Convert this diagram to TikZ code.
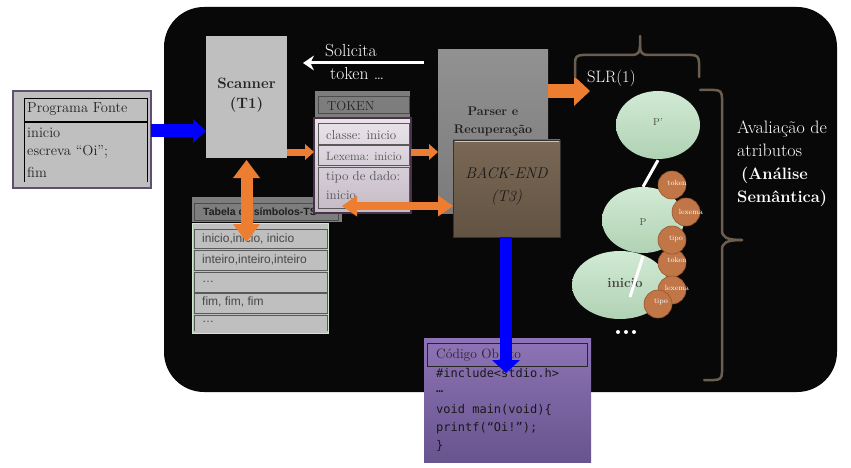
\documentclass[tikz,border=0pt]{standalone}
\usepackage{fontspec}
\newfontfamily\arialf{Liberation Sans}
\newfontfamily\monof{DejaVu Sans Mono}
\usetikzlibrary{arrows.meta,shapes.geometric,calc}
\definecolor{bgray}{RGB}{191,191,191}
\definecolor{dgray}{RGB}{125,125,125}
\definecolor{orng}{RGB}{237,125,49}
\definecolor{brntop}{RGB}{122,104,85}
\definecolor{brnbot}{RGB}{98,83,67}
\definecolor{bracec}{RGB}{107,94,80}
\definecolor{framec}{RGB}{95,80,115}
\definecolor{tokb}{RGB}{75,50,75}
\definecolor{toktop}{RGB}{234,228,234}
\definecolor{tokbot}{RGB}{196,186,198}
\definecolor{ballc}{RGB}{192,118,70}
\definecolor{ballb}{RGB}{150,85,45}
\definecolor{txtd}{RGB}{35,35,35}
\definecolor{elltop}{RGB}{210,234,212}
\definecolor{ellbot}{RGB}{176,210,180}
\definecolor{codetop}{RGB}{142,116,182}
\definecolor{codebot}{RGB}{104,84,142}
\definecolor{tabb}{RGB}{205,232,205}
\tikzset{
  box/.style={anchor=north west, inner sep=0pt, outer sep=0pt},
  lbl/.style={anchor=west, inner sep=0pt},
  osmall/.style={orng, line width=7pt, -{Triangle[length=9pt,width=16pt,line width=0pt]}},
  obig/.style={orng, line width=14pt, -{Triangle[length=16pt,width=30pt,line width=0pt]}},
  overt/.style={orng, line width=12pt, {Triangle[length=18pt,width=27pt,line width=0pt]}-{Triangle[length=18pt,width=27pt,line width=0pt]}},
  ohor/.style={orng, line width=8pt, {Triangle[length=15pt,width=21pt,line width=0pt]}-{Triangle[length=15pt,width=21pt,line width=0pt]}},
  bluer/.style={blue, line width=13pt, -{Triangle[length=13pt,width=24pt,line width=0pt]}},
  bluedn/.style={blue, line width=12pt, -{Triangle[length=13pt,width=28pt,line width=0pt]}},
  itembox/.style={box, draw=black!65, line width=1pt},
  ell/.style={ellipse, inner sep=0pt, top color=elltop, bottom color=ellbot},
  ball/.style={circle, minimum size=28pt, inner sep=0pt, fill=ballc, draw=ballb, line width=0.6pt},
  balltxt/.style={text=white, inner sep=0pt, font=\fontsize{7.5}{8}\selectfont},
  bracel/.style={draw=bracec, line width=2.5pt, line cap=round},
  wline/.style={draw=white, line width=3pt},
}
\begin{document}
\begin{tikzpicture}[x=1pt,y=-1pt]
\useasboundingbox (0,0) rectangle (851,468);
% black panel
\fill[black!97, rounded corners=40pt] (164,7) rectangle (837,392);

% Programa Fonte
\node[box, draw=framec, line width=2.5pt, fill=bgray, minimum width=138pt, minimum height=97pt] (prog) at (13,91) {};
\node[box, draw=black, line width=0.8pt, minimum width=123pt, minimum height=23pt] (proghead) at (24,98) {};
\node[lbl, font=\fontsize{14.5}{16}\selectfont, text=txtd] (progt) at (27,109.5) {Programa Fonte};
\draw[black, line width=0.8pt] (24,182) -- (24,122) -- (147,122) -- (147,182);
\node[lbl, font=\fontsize{14.5}{16}\selectfont, text=txtd] (p1) at (27,133) {inicio};
\node[lbl, font=\fontsize{14.5}{16}\selectfont, text=txtd] (p2) at (27,152) {escreva “Oi”;};
\node[lbl, font=\fontsize{14.5}{16}\selectfont, text=txtd] (p3) at (27,172) {fim};

% Scanner
\node[box, fill=bgray, minimum width=81pt, minimum height=122pt] (scanner) at (206,36) {};
\node[align=center, font=\bfseries\fontsize{15}{20}\selectfont, text=txtd] (scant) at (246.5,95) {Scanner\\(T1)};
\draw[bluer] (prog.east |- 0,131) -- (scanner.west |- 0,131);

% Solicita token
\node[lbl, font=\fontsize{17.5}{19}\selectfont, text=white] (sol1) at (325,51) {Solicita};
\node[lbl, font=\fontsize{17.5}{19}\selectfont, text=white] (sol2) at (330,73) {token \ldots};
\coordinate (wA) at (424,63);
\coordinate (wB) at (303,63);
\draw[white, line width=3pt, -{Stealth[length=11pt,width=15pt,line width=0pt]}] (wA) -- (wB);

% Tabela de simbolos
\node[box, fill=dgray, minimum width=150pt, minimum height=25pt] (tabhead) at (192,197) {};
\node[box, draw=black!70, line width=1pt, minimum width=144pt, minimum height=17pt] (tabin) at (194,203) {};
\node[lbl, font=\arialf\bfseries\fontsize{10.5}{12}\selectfont, text=black!88] (tabt) at (203,211.5) {Tabela de símbolos-TS};
\node[box, fill=bgray, draw=tabb, line width=1pt, minimum width=136pt, minimum height=110pt] (tabbody) at (192,223) {};
\node[itembox, minimum width=133pt, minimum height=19pt] (t1) at (194,229) {};
\node[itembox, minimum width=133pt, minimum height=20pt] (t2) at (194,250) {};
\node[itembox, minimum width=133pt, minimum height=20pt] (t3) at (194,272) {};
\node[itembox, minimum width=133pt, minimum height=20pt] (t4) at (194,293) {};
\draw[black!65, line width=1pt] (194,331) -- (194,315) -- (327,315) -- (327,331);
\node[lbl, font=\arialf\fontsize{12}{14}\selectfont, text=black!72] (tt1) at (202,238.5) {inicio,inicio, inicio};
\node[lbl, font=\arialf\fontsize{12}{14}\selectfont, text=black!72] (tt2) at (202,260) {inteiro,inteiro,inteiro};
\node[lbl, font=\arialf\fontsize{12}{14}\selectfont, text=black!72] (tt3) at (202,282) {\ldots};
\node[lbl, font=\arialf\fontsize{12}{14}\selectfont, text=black!72] (tt4) at (202,302) {fim, fim, fim};
\node[lbl, font=\arialf\fontsize{12}{14}\selectfont, text=black!72] (tt5) at (202,322) {\ldots};

% vertical double arrow
\draw[overt] ($(scanner.south)+(0,2)$) -- ($(scanner.south |- tabbody.north)+(0,19)$);

% TOKEN
\node[box, fill=dgray, minimum width=95pt, minimum height=26pt] (tokhead) at (315,91) {};
\node[box, draw=black!70, line width=1pt, minimum width=91pt, minimum height=17pt] (tokin) at (318,97) {};
\node[lbl, font=\fontsize{13}{15}\selectfont, text=txtd] (tokt) at (327,106) {TOKEN};
\node[box, top color=toktop, bottom color=tokbot, draw=tokb, line width=1.5pt, minimum width=97pt, minimum height=95pt] (tokbody) at (314,118) {};
\node[itembox, minimum width=91pt, minimum height=21pt] (k1) at (318,124) {};
\node[itembox, minimum width=91pt, minimum height=19pt] (k2) at (318,146) {};
\node[itembox, minimum width=91pt, minimum height=41pt] (k3) at (318,167) {};
\node[lbl, font=\fontsize{13}{15}\selectfont, text=black!68] (kt1) at (326,135) {classe: inicio};
\node[lbl, font=\fontsize{12}{14}\selectfont, text=black!68] (kt2) at (326,156) {Lexema: inicio};
\node[lbl, font=\fontsize{13}{15}\selectfont, text=black!68] (kt3) at (326,177) {tipo de dado:};
\node[lbl, font=\fontsize{13}{15}\selectfont, text=black!68] (kt4) at (326,195) {inicio};

% Parser
\node[box, top color=black!43, bottom color=black!52, minimum width=110pt, minimum height=163pt] (parser) at (438,50) {};
\node[align=center, font=\bfseries\fontsize{12.5}{18}\selectfont, text=black!88] (parset) at (493,121) {Parser e\\Recuperação};

\draw[osmall] (scanner.east |- 0,152) -- (tokbody.west |- 0,152);
\draw[osmall] (tokbody.east |- 0,152) -- (parser.west |- 0,152);

% BACK-END
\node[box, top color=brntop, bottom color=brnbot, draw=black!80, line width=0.8pt, minimum width=107pt, minimum height=97pt] (backend) at (453,140) {};
\draw[white!60!brntop, line width=1pt] ($(backend.north west)+(1.5,1.5)$) -- ($(backend.north east)+(-1.5,1.5)$);
\node[align=center, font=\itshape\fontsize{15.5}{23}\selectfont, text=black!90] (bet) at (506.5,186.5) {BACK-END\\(T3)};

% horizontal double arrow
\draw[ohor] ($(tokbody.west |- 0,206)+(28,0)$) -- (backend.west |- 0,206);

% SLR
\node[lbl, font=\fontsize{16.5}{18}\selectfont, text=white] (slr) at (587,78) {SLR(1)};
\draw[obig] (parser.east |- 0,91) -- ($(slr.west)+(3,13)$);

% top brace
\draw[bracel] (575,77) -- (575,63) .. controls (575,57) and (577,55) .. (583,55) -- (632,55) .. controls (638,55) and (640,52) .. (640,46) -- (640,36);
\draw[bracel] (640,46) .. controls (640,52) and (642,55) .. (648,55) -- (691,55) .. controls (697,55) and (699,57) .. (699,63) -- (699,77);
% right brace
\draw[bracel] (700,90) -- (714,90) .. controls (720,90) and (722,92) .. (722,98) -- (722,230) .. controls (722,237) and (726,240) .. (742,240);
\draw[bracel] (742,240) .. controls (726,240) and (722,243) .. (722,250) -- (722,372) .. controls (722,378) and (720,380) .. (714,380) -- (704,380);

% Avaliacao
\node[anchor=north west, inner sep=0pt, align=left, text=white, font=\fontsize{18}{23}\selectfont] (aval) at (737,121) {Avaliação de\\atributos\\\hspace*{4pt}{\bfseries\fontsize{16.5}{23}\selectfont(Análise}\\{\bfseries\fontsize{16.5}{23}\selectfont Semântica)}};

% ellipses
\node[ell, minimum width=84pt, minimum height=68pt] (pp) at (658,125) {};
\node[font=\fontsize{10}{11}\selectfont, text=black!70] (ppt) at (658,122) {P'};
\node[ell, minimum width=82pt, minimum height=66pt] (p) at (643,220) {};
\node[font=\fontsize{10}{11}\selectfont, text=black!70] (pt) at (643,222) {P};
\node[ell, minimum width=96pt, minimum height=68pt] (ini) at (620,285) {};
\node[font=\bfseries\fontsize{13.5}{15}\selectfont, text=black!72] (init) at (625,283) {inicio};
\draw[wline] ($(pp.south)+(0,1)$) -- (p.north);
\draw[wline] ($(p.south)+(0,3)$) -- ($(ini.center)+(10,12)$);

% balls
\node[ball] (b1) at (672,185) {};
\node[balltxt] (b1t) at (677,183) {token};
\node[ball] (b2) at (686,212) {};
\node[balltxt] (b2t) at (691,212) {lexema};
\node[ball] (b4) at (672,263) {};
\node[balltxt] (b4t) at (677,260) {token};
\node[ball] (b3) at (672,240) {};
\node[balltxt] (b3t) at (676,239) {tipo};
\node[ball] (b5) at (672,290) {};
\node[balltxt] (b5t) at (677,288) {lexema};
\node[ball] (b6) at (658,304) {};
\node[balltxt] (b6t) at (661,302) {tipo};

% dots
\fill[white] (618,332) circle (2pt) (626,332) circle (2pt) (634,332) circle (2pt);

% Codigo Objeto
\node[box, top color=codetop, bottom color=codebot, minimum width=167pt, minimum height=124pt] (code) at (424,338) {};
\node[box, draw=black!85, line width=0.8pt, minimum width=160pt, minimum height=23pt] (codehead) at (427,343) {};
\node[lbl, font=\fontsize{13.5}{15}\selectfont, text=black!85] (codet) at (436,355) {Código Objeto};
\node[lbl, font=\monof\fontsize{12}{14}\selectfont, text=black!90] (c1) at (436,373) {\#include<stdio.h>};
\node[lbl, font=\monof\fontsize{12}{14}\selectfont, text=black!90] (c2) at (436,392) {…};
\node[lbl, font=\monof\fontsize{12}{14}\selectfont, text=black!90] (c3) at (436,410) {void main(void)\{};
\node[lbl, font=\monof\fontsize{12}{14}\selectfont, text=black!90] (c4) at (436,428) {printf(“Oi!”);};
\node[lbl, font=\monof\fontsize{12}{14}\selectfont, text=black!90] (c5) at (436,446) {\}};

\draw[bluedn] (backend.south -| 506,0) -- ($(codehead.north -| 506,0)+(0,30)$);
\end{tikzpicture}
\end{document}
